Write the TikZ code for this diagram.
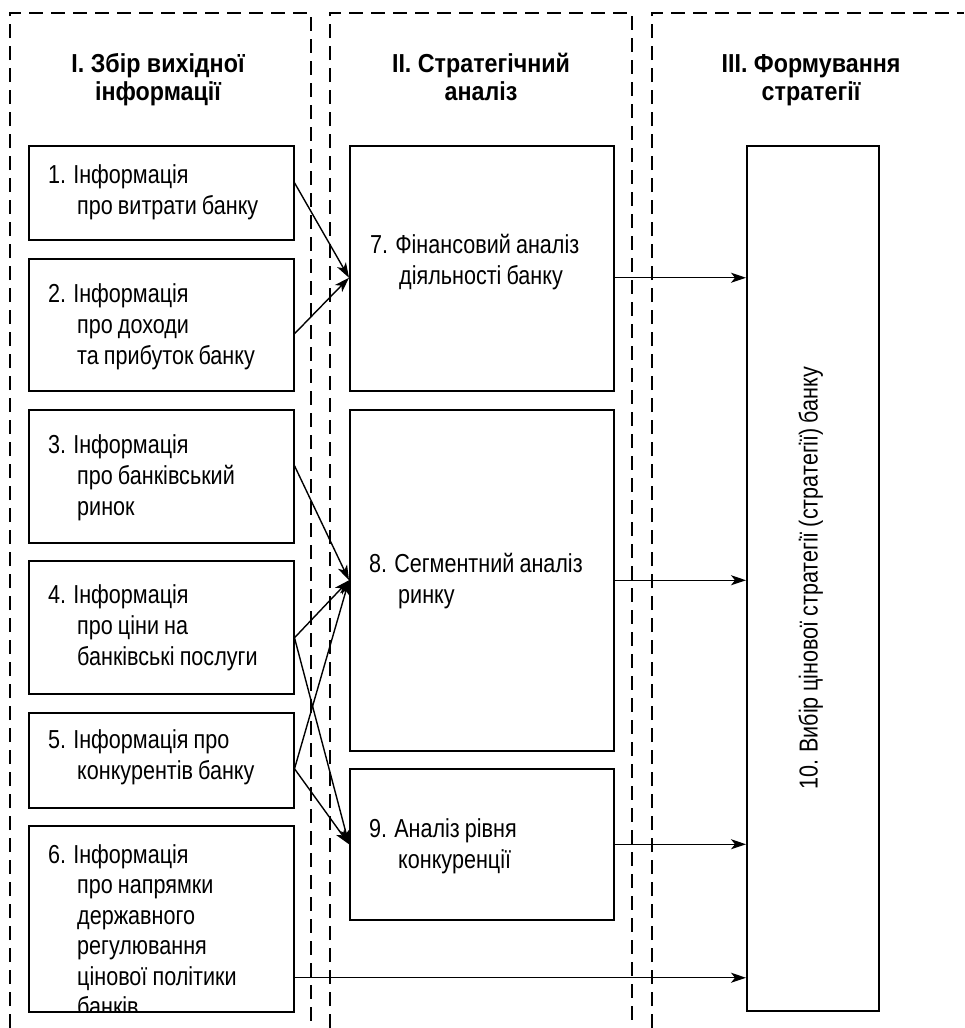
\documentclass[tikz,border=0pt]{standalone}
\usepackage{fontspec}
\setmainfont{Liberation Sans}[FakeStretch=0.83,WordSpace=0.85]
\newfontfamily\headfont{Liberation Sans}[FakeStretch=0.895]
\usetikzlibrary{arrows.meta}
\tikzset{
  box/.style={draw, line width=1.5pt, rectangle, inner sep=0pt, anchor=north west},
  txt/.style={inner sep=0pt, anchor=base west, font=\fontsize{26pt}{31pt}\selectfont},
  head/.style={inner sep=0pt, anchor=base, font=\headfont\fontsize{26pt}{28pt}\selectfont\bfseries},
  dashline/.style={line width=1.3pt, dash pattern=on 14pt off 8pt},
  arr/.style={line width=1.4pt, -{Stealth[length=15pt, width=10pt, inset=4pt]}}
}
\newcommand{\twol}[2]{\vtop{\baselineskip=31pt\hbox{#1}\hbox{\hspace*{29pt}#2}}}
\newcommand{\threel}[3]{\vtop{\baselineskip=31pt\hbox{#1}\hbox{\hspace*{29pt}#2}\hbox{\hspace*{29pt}#3}}}
\newcommand{\hd}[2]{\vtop{\baselineskip=28pt\hbox to 0pt{\hss #1\hss}\hbox to 0pt{\hss #2\hss}}}
\begin{document}
\begin{tikzpicture}[x=1pt,y=-1pt]
\useasboundingbox (0,0) rectangle (964,1028);
% dashed columns
\draw[dashline] (10,1028) -- (10,13) -- (311,13) -- (311,1028);
\draw[dashline] (330,1028) -- (330,13) -- (632,13) -- (632,1028);
\draw[dashline] (652,1028) -- (652,13) -- (964,13);
% headings
\node[head] (h1) at (158,72) {\hd{I. Збір вихідної}{інформації}};
\node[head] (h2) at (481,72) {\hd{II. Стратегічний}{аналіз}};
\node[head] (h3) at (811,72) {\hd{III. Формування}{стратегії}};
% column 1 boxes
\node[box, minimum width=265pt, minimum height=94pt] (b1) at (28,145) {};
\node[box, minimum width=265pt, minimum height=132pt] (b2) at (28,258) {};
\node[box, minimum width=265pt, minimum height=133pt] (b3) at (28,409) {};
\node[box, minimum width=265pt, minimum height=133pt] (b4) at (28,560) {};
\node[box, minimum width=265pt, minimum height=95pt] (b5) at (28,712) {};
\node[box, minimum width=265pt, minimum height=186pt] (b6) at (28,825) {};
% column 2 boxes
\node[box, minimum width=264pt, minimum height=245pt] (b7) at (349,145) {};
\node[box, minimum width=264pt, minimum height=341pt] (b8) at (349,409) {};
\node[box, minimum width=264pt, minimum height=151pt] (b9) at (349,768) {};
% column 3 box
\node[box, minimum width=132pt, minimum height=865pt] (b10) at (746,145) {};
% texts
\node[txt] (t1) at (48,183) {\twol{1. Інформація}{про витрати банку}};
\node[txt] (t2) at (48,302) {\threel{2. Інформація}{про доходи}{та прибуток банку}};
\node[txt] (t3) at (48,453) {\threel{3. Інформація}{про банківський}{ринок}};
\node[txt] (t4) at (48,603) {\threel{4. Інформація}{про ціни на}{банківські послуги}};
\node[txt] (t5) at (48,748) {\twol{5. Інформація про}{конкурентів банку}};
\begin{scope}
\clip (b6.north west) rectangle (b6.south east);
\node[txt] (t6) at (48,863) {\vtop{\baselineskip=30.5pt\hbox{6. Інформація}\hbox{\hspace*{29pt}про напрямки}\hbox{\hspace*{29pt}державного}\hbox{\hspace*{29pt}регулювання}\hbox{\hspace*{29pt}цінової політики}\hbox{\hspace*{29pt}банків}}};
\end{scope}
\node[txt] (t7) at (370,253) {\twol{7. Фінансовий аналіз}{діяльності банку}};
\node[txt] (t8) at (369,572) {\twol{8. Сегментний аналіз}{ринку}};
\node[txt] (t9) at (369,837) {\twol{9. Аналіз рівня}{конкуренції}};
\node[inner sep=0pt, rotate=90, font=\fontsize{26pt}{28pt}\selectfont] (t10) at ([xshift=-2pt]b10.center) {10. Вибір цінової стратегії (стратегії) банку};
% connector anchors
\coordinate (s1) at ([yshift=10pt]b1.east);
\coordinate (s2) at ([yshift=-9pt]b2.east);
\coordinate (s3) at ([yshift=10.5pt]b3.east);
\coordinate (s4) at ([yshift=-10.5pt]b4.east);
\coordinate (s5) at ([yshift=-8.5pt]b5.east);
\coordinate (s6) at ([yshift=-59pt]b6.east);
\coordinate (e7) at ([yshift=-9.5pt]b7.west);
\coordinate (s7) at ([yshift=-9.5pt]b7.east);
\coordinate (s8) at (b8.east);
\coordinate (s9) at (b9.east);
% arrows into analysis boxes
\draw[arr] (s1) -- (e7);
\draw[arr] (s2) -- (e7);
\draw[arr] (s3) -- (b8.west);
\draw[arr] (s4) -- (b8.west);
\draw[arr] (s5) -- (b8.west);
\draw[arr] (s4) -- (b9.west);
\draw[arr] (s5) -- (b9.west);
% arrows into box 10
\draw[arr] (s7) -- (s7 -| b10.west);
\draw[arr] (s8) -- (s8 -| b10.west);
\draw[arr] (s9) -- (s9 -| b10.west);
\draw[arr] (s6) -- (s6 -| b10.west);
\end{tikzpicture}
\end{document}
